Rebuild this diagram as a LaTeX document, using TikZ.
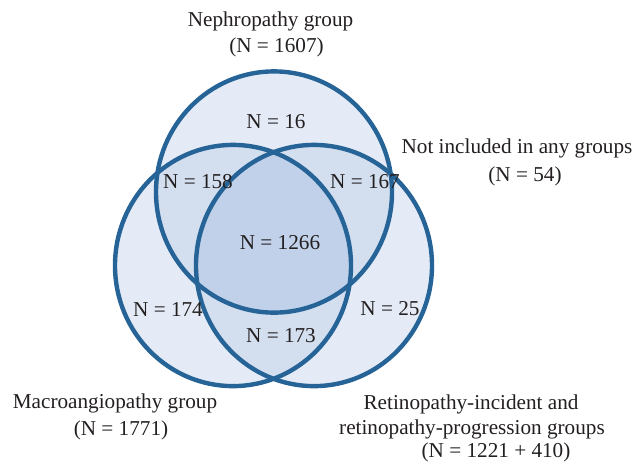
\documentclass[tikz,border=0pt]{standalone}
\usepackage{fontspec}
\setmainfont{Liberation Serif}
\definecolor{ring}{RGB}{38,100,152}
\definecolor{fone}{RGB}{228,235,246}
\definecolor{ftwo}{RGB}{211,222,239}
\definecolor{fthree}{RGB}{192,209,233}
\definecolor{ink}{RGB}{35,31,32}
\begin{document}
\begin{tikzpicture}[x=0.5pt,y=-0.5pt,
  lbl/.style={inner sep=0pt,text=ink,font=\fontsize{10.6}{12}\selectfont},
  ringline/.style={draw=ring,line width=2.2pt}]
\useasboundingbox (0,0) rectangle (636,463);
\def\topc{(274,192) ellipse [x radius=59pt, y radius=60.3pt]}
\def\leftc{(233,265.5) ellipse [x radius=59pt, y radius=60.3pt]}
\def\rightc{(314,265.5) ellipse [x radius=59pt, y radius=60.3pt]}
\fill[fone] \topc;
\fill[fone] \leftc;
\fill[fone] \rightc;
\begin{scope}\clip \topc; \fill[ftwo] \leftc; \fill[ftwo] \rightc;\end{scope}
\begin{scope}\clip \leftc; \fill[ftwo] \rightc;\end{scope}
\begin{scope}\clip \topc; \clip \leftc; \fill[fthree] \rightc;\end{scope}
\draw[ringline] \topc;
\draw[ringline] \leftc;
\draw[ringline] \rightc;
\node[lbl] (nephT) at (270.5,21) {Nephropathy group};
\node[lbl] (nephN) at (276.5,47) {(N = 1607)};
\node[lbl] (notT) at (517,148) {Not included in any groups};
\node[lbl] (notN) at (525,176) {(N = 54)};
\node[lbl] (macT) at (115,403) {Macroangiopathy group};
\node[lbl] (macN) at (121,430) {(N = 1771)};
\node[lbl] (retA) at (471,404) {Retinopathy-incident and};
\node[lbl] (retB) at (472,429) {retinopathy-progression groups};
\node[lbl] (retN) at (496,452) {(N = 1221 + 410)};
\node[lbl] (r16) at (276,122) {N = 16};
\node[lbl] (r158) at (198,182) {N = 158};
\node[lbl] (r167) at (365,182) {N = 167};
\node[lbl] (r1266) at (280,243) {N = 1266};
\node[lbl] (r174) at (168,309) {N = 174};
\node[lbl] (r25) at (390,309) {N = 25};
\node[lbl] (r173) at (281,336) {N = 173};
\end{tikzpicture}
\end{document}
